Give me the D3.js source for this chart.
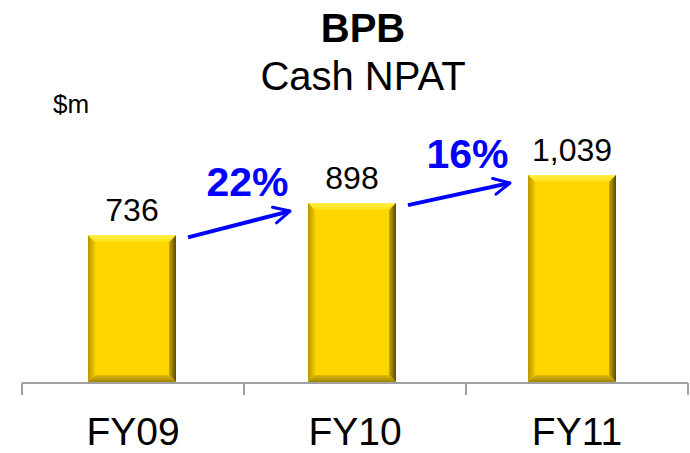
<!DOCTYPE html>
<html><head><meta charset="utf-8">
<script src="https://cdn.jsdelivr.net/npm/d3@7"></script>
<style>body{margin:0;background:#fff;} svg{display:block;font-family:"Liberation Sans",Arial,sans-serif;}</style>
</head><body>
<svg id="c" width="690" height="453"></svg>
<script>
const categories = ["FY09","FY10","FY11"];
const values = [736, 898, 1039];
const valueLabels = ["736","898","1,039"];
const growthLabels = ["22%","16%"];

const svg = d3.select("#c");
const x = d3.scaleBand().domain(categories).range([22,682]).paddingInner(0.6).paddingOuter(0.3);
const y = d3.scaleLinear().domain([0,1039]).range([382,175]);
const xb = d3.scaleBand().domain(categories).range([22,688]);

// title
svg.append("text").attr("x",363).attr("y",42).attr("text-anchor","middle").attr("font-weight","bold").attr("font-size",40).text("BPB");
svg.append("text").attr("x",363).attr("y",90).attr("text-anchor","middle").attr("font-size",40).text("Cash NPAT");
svg.append("text").attr("x",53).attr("y",113).attr("font-size",26).text("$m");

const defs = svg.append("defs");
const gTop = defs.append("linearGradient").attr("id","gtop").attr("x1",0).attr("y1",0).attr("x2",0).attr("y2",1);
gTop.append("stop").attr("offset",0).attr("stop-color","#FFF04A");
gTop.append("stop").attr("offset",1).attr("stop-color","#FFDF10");
const gRight = defs.append("linearGradient").attr("id","gright").attr("x1",0).attr("y1",0).attr("x2",1).attr("y2",0);
gRight.append("stop").attr("offset",0).attr("stop-color","#C9A600");
gRight.append("stop").attr("offset",1).attr("stop-color","#5A4A00");
const gLeft = defs.append("linearGradient").attr("id","gleft").attr("x1",0).attr("y1",0).attr("x2",1).attr("y2",0);
gLeft.append("stop").attr("offset",0).attr("stop-color","#B89600");
gLeft.append("stop").attr("offset",1).attr("stop-color","#F0C800");
const gBot = defs.append("linearGradient").attr("id","gbot").attr("x1",0).attr("y1",0).attr("x2",0).attr("y2",1);
gBot.append("stop").attr("offset",0).attr("stop-color","#E0B800");
gBot.append("stop").attr("offset",1).attr("stop-color","#A08400");

const b = 7;
const bars = svg.selectAll("g.bar").data(categories).join("g").attr("class","bar");
bars.each(function(c,i){
  const g = d3.select(this);
  const x0 = x(c), x1 = x(c)+x.bandwidth(), y0 = y(values[i]), y1 = y(0);
  g.append("rect").attr("x",x0).attr("y",y0).attr("width",x1-x0).attr("height",y1-y0).attr("fill","#FFD500");
  g.append("path").attr("d",`M${x0},${y0}L${x1},${y0}L${x1-b},${y0+b}L${x0+b},${y0+b}Z`).attr("fill","url(#gtop)");
  g.append("path").attr("d",`M${x1},${y0}L${x1},${y1}L${x1-b},${y1-b}L${x1-b},${y0+b}Z`).attr("fill","url(#gright)");
  g.append("path").attr("d",`M${x0},${y0}L${x0+b},${y0+b}L${x0+b},${y1-b}L${x0},${y1}Z`).attr("fill","url(#gleft)");
  g.append("path").attr("d",`M${x0},${y1}L${x0+b},${y1-b}L${x1-b},${y1-b}L${x1},${y1}Z`).attr("fill","url(#gbot)");
  g.append("text").attr("x",(x0+x1)/2).attr("y",y0-14).attr("text-anchor","middle").attr("font-size",32).text(valueLabels[i]);
});

// axis
const axisY = 383;
svg.append("line").attr("x1",22).attr("x2",688).attr("y1",axisY).attr("y2",axisY).attr("stroke","#A0A0A0").attr("stroke-width",2);
const ticks = [22].concat(categories.map(c=>xb(c)+xb.bandwidth()));
svg.selectAll("line.tick").data(ticks).join("line").attr("class","tick")
  .attr("x1",d=>d).attr("x2",d=>d).attr("y1",axisY).attr("y2",axisY+12).attr("stroke","#A0A0A0").attr("stroke-width",2);
svg.selectAll("text.cat").data(categories).join("text").attr("class","cat")
  .attr("x",c=>xb(c)+xb.bandwidth()/2).attr("y",444.5).attr("text-anchor","middle").attr("font-size",39).text(c=>c);

// growth arrows
const mk = defs.append("marker").attr("id","ah").attr("viewBox","0 0 10 10").attr("refX",9).attr("refY",5)
  .attr("markerWidth",5).attr("markerHeight",5).attr("orient","auto").attr("markerUnits","strokeWidth");
mk.append("path").attr("d","M1,1L9,5L1,9").attr("fill","none").attr("stroke","#0000FF").attr("stroke-width",1.5).attr("stroke-linecap","round").attr("stroke-linejoin","round");
growthLabels.forEach((lab,i)=>{
  const a = categories[i], bb = categories[i+1];
  const xs = x(a)+x.bandwidth()+12, xe = x(bb)-15;
  const ys = y(values[i])+2, ye = y(values[i+1])+9;
  svg.append("line").attr("x1",xs).attr("y1",ys).attr("x2",xe-3).attr("y2",ye-1)
    .attr("stroke","#0000FF").attr("stroke-width",4).attr("marker-end","url(#ah)");
  svg.append("text").attr("x",(xs+xe)/2+7).attr("y",y(values[i+1])-7).attr("text-anchor","middle")
    .attr("font-size",41).attr("font-weight","bold").attr("fill","#0000FF").text(lab);
});
</script>
</body></html>
